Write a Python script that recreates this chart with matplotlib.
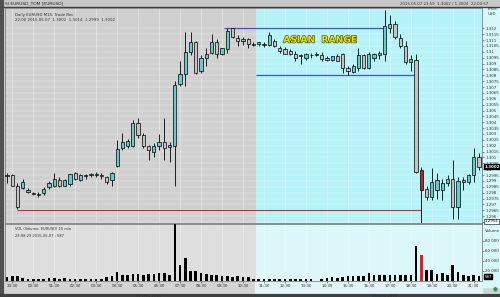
import numpy as np
import matplotlib
matplotlib.use("Agg")
import matplotlib.pyplot as plt
import matplotlib.patheffects as pe

# 15 minute candles, EURUSD
opens = [1.2994, 1.2995, 1.2986, 1.2984, 1.2981, 1.2980, 1.2979, 1.2980, 1.2985, 1.2986,
         1.2991, 1.2986, 1.2987, 1.2997, 1.2991, 1.2994, 1.2995, 1.2995, 1.2995, 1.2993,
         1.2991, 1.3003, 1.3018, 1.3020, 1.3020, 1.3039, 1.3029, 1.3020, 1.3015, 1.3020,
         1.3023, 1.3019, 1.3020, 1.3073, 1.3081, 1.3100, 1.3108, 1.3084, 1.3095, 1.3099,
         1.3108, 1.3098, 1.3102, 1.3120, 1.3112, 1.3109, 1.3111, 1.3107, 1.3107, 1.3107,
         1.3106, 1.3109, 1.3103, 1.3102, 1.3101, 1.3098, 1.3096, 1.3095, 1.3097, 1.3097,
         1.3097, 1.3095, 1.3093, 1.3096, 1.3098, 1.3086, 1.3083, 1.3086, 1.3097, 1.3086,
         1.3095, 1.3097, 1.3098, 1.3120, 1.3124, 1.3112, 1.3105, 1.3091, 1.3093, 1.2999,
         1.2983, 1.2976, 1.2982, 1.2982, 1.2988, 1.2992, 1.2968, 1.2989, 1.2989, 1.2995,
         1.3010]
highs = [1.2997, 1.2996, 1.2988, 1.2992, 1.2984, 1.2981, 1.2981, 1.2985, 1.2990, 1.2997,
         1.2993, 1.2992, 1.2996, 1.2998, 1.2996, 1.2996, 1.2997, 1.2998, 1.2997, 1.2994,
         1.2998, 1.3025, 1.3031, 1.3026, 1.3042, 1.3044, 1.3031, 1.3021, 1.3022, 1.3030,
         1.3044, 1.3023, 1.3075, 1.3092, 1.3117, 1.3117, 1.3109, 1.3097, 1.3103, 1.3115,
         1.3111, 1.3103, 1.3120, 1.3120, 1.3114, 1.3113, 1.3112, 1.3108, 1.3108, 1.3108,
         1.3117, 1.3111, 1.3105, 1.3104, 1.3102, 1.3101, 1.3098, 1.3099, 1.3099, 1.3100,
         1.3100, 1.3096, 1.3096, 1.3098, 1.3099, 1.3088, 1.3090, 1.3103, 1.3098, 1.3100,
         1.3099, 1.3101, 1.3136, 1.3131, 1.3126, 1.3115, 1.3109, 1.3097, 1.3098, 1.3002,
         1.2986, 1.3001, 1.2997, 1.2992, 1.2995, 1.3008, 1.2993, 1.2993, 1.2996, 1.3018,
         1.3014]
lows = [1.2988, 1.2986, 1.2966, 1.2983, 1.2980, 1.2978, 1.2976, 1.2978, 1.2983, 1.2985,
        1.2985, 1.2986, 1.2986, 1.2991, 1.2990, 1.2992, 1.2993, 1.2993, 1.2992, 1.2987,
        1.2986, 1.3002, 1.3016, 1.3018, 1.3019, 1.3027, 1.3018, 1.3008, 1.3010, 1.3016,
        1.3008, 1.3006, 1.2986, 1.3071, 1.3071, 1.3097, 1.3081, 1.3082, 1.3088, 1.3098,
        1.3095, 1.3097, 1.3099, 1.3112, 1.3105, 1.3106, 1.3103, 1.3105, 1.3105, 1.3104,
        1.3105, 1.3104, 1.3099, 1.3098, 1.3097, 1.3092, 1.3090, 1.3093, 1.3095, 1.3096,
        1.3092, 1.3092, 1.3092, 1.3092, 1.3082, 1.3080, 1.3082, 1.3084, 1.3085, 1.3085,
        1.3092, 1.3094, 1.3092, 1.3116, 1.3111, 1.3103, 1.3090, 1.3084, 1.2997, 1.2954,
        1.2974, 1.2974, 1.2975, 1.2974, 1.2986, 1.2958, 1.2958, 1.2982, 1.2987, 1.2989,
        1.2999]
closes = [1.2995, 1.2986, 1.2968, 1.2989, 1.2982, 1.2979, 1.2978, 1.2983, 1.2988, 1.2992,
          1.2986, 1.2991, 1.2996, 1.2992, 1.2995, 1.2995, 1.2996, 1.2996, 1.2994, 1.2989,
          1.2997, 1.3017, 1.3023, 1.3024, 1.3039, 1.3029, 1.3020, 1.3016, 1.3020, 1.3023,
          1.3018, 1.3021, 1.3072, 1.3081, 1.3100, 1.3108, 1.3082, 1.3095, 1.3098, 1.3108,
          1.3098, 1.3103, 1.3118, 1.3113, 1.3109, 1.3111, 1.3107, 1.3106, 1.3108, 1.3106,
          1.3114, 1.3105, 1.3101, 1.3098, 1.3098, 1.3095, 1.3097, 1.3098, 1.3097, 1.3098,
          1.3094, 1.3093, 1.3096, 1.3092, 1.3086, 1.3084, 1.3088, 1.3097, 1.3086, 1.3098,
          1.3098, 1.3099, 1.3122, 1.3124, 1.3113, 1.3105, 1.3091, 1.3094, 1.2998, 1.2982,
          1.2976, 1.2989, 1.2991, 1.2988, 1.2992, 1.2968, 1.2990, 1.2991, 1.2995, 1.3010,
          1.3002]
volumes = [7600, 9000, 9600, 5600, 4400, 4400, 4400, 4400, 5600, 6000,
           4400, 5600, 4400, 4400, 4400, 4400, 4400, 4400, 4400, 7600,
           9000, 17600, 12400, 11000, 14400, 13000, 12400, 14400, 13000, 15600,
           15600, 12400, 118000, 31000, 46400, 19000, 19000, 15600, 14400, 12400,
           12400, 9600, 9600, 7600, 9000, 7600, 7600, 4400, 4400, 4400,
           4400, 4400, 4400, 4400, 4400, 4400, 4400, 4400, 4400, 0,
           4400, 5600, 7600, 5600, 7600, 9000, 9000, 9000, 9000, 15600,
           11000, 11000, 12400, 11000, 11000, 12400, 11000, 12400, 69000, 52400,
           21000, 22400, 14400, 15600, 11000, 31000, 17600, 11000, 9000, 12400,
           9000]

time_labels = ["23:30", "00:30", "01:30", "02:30", "03:30", "04:30", "05:30", "06:30",
               "07:30", "08:30", "09:30", "10:30", "11:30", "12:30", "13:30", "14:30",
               "15:30", "16:30", "17:30", "18:30", "19:30", "20:30", "21:30"]
date_labels = ["07 мая 2015", "08 мая 2015"]

session_split = 47.5      # night / day border (candle index)
asian_high = 1.3120
asian_low = 1.30805
range_low = 1.2965
red_candle = 79

n = len(opens)
idx = np.arange(n)
o = np.array(opens); h = np.array(highs); l = np.array(lows); c = np.array(closes)
vol = np.array(volumes)

W, H = 500, 297
fig = plt.figure(figsize=(W / 100, H / 100), dpi=100)
fig.patch.set_facecolor("#d4d4d4")

def rect(x0, y0, x1, y1):
    # pixel box -> figure fraction
    return [x0 / W, 1 - y1 / H, (x1 - x0) / W, (y1 - y0) / H]

# window frame
bg = fig.add_axes([0, 0, 1, 1])
bg.set_xlim(0, W); bg.set_ylim(H, 0); bg.axis("off")
bg.add_patch(plt.Rectangle((0, 0), W, 7, color="#c8c8c8"))
bg.add_patch(plt.Rectangle((482, 7), 18, 280, color="#d6f8fa"))
bg.add_patch(plt.Rectangle((255, 281), 227, 13, color="#e2f4f5"))
bg.plot([0, W], [7, 7], color="#404040", lw=1)
bg.plot([1.5, 1.5], [0, H], color="#505050", lw=3)
bg.plot([0, W], [295.5, 295.5], color="#404040", lw=3)
bg.text(5, 3.8, "SI EURUSD_TOM [EURUSD]", fontsize=3.2, va="center", color="#202020")
bg.text(400, 3.8, "2015.05.07 23:59  1.3002 / 1.3004  22:00:57", fontsize=2.8, va="center", color="#303030")
bg.text(495, 289, "\u25cf", fontsize=4, color="#20a040", ha="center", va="center")

ax = fig.add_axes(rect(5, 8, 482, 223))
axv = fig.add_axes(rect(5, 224, 482, 281))

xlo, xhi = -0.38, n - 0.43
for a, gcol, ccol in ((ax, "#d0d0d0", "#b6f3f8"), (axv, "#dedede", "#dcf8fa")):
    a.axvspan(xlo, session_split, color=gcol, lw=0, zorder=0)
    a.axvspan(session_split, xhi, color=ccol, lw=0, zorder=0)
    a.set_xlim(xlo, xhi)
    for sp in a.spines.values():
        sp.set_color("#808080"); sp.set_linewidth(0.6)

# price grid + right axis
ylo, yhi = 1.29542, 1.31373
ax.set_ylim(ylo, yhi)
pticks = np.arange(1.2955, 1.31201, 0.0005)
ax.yaxis.tick_right()
ax.set_yticks(pticks)
ax.set_yticklabels([("%.4f" % p).rstrip("0") for p in pticks])
ax.tick_params(axis="y", labelsize=2.9, length=1.5, width=0.4, pad=1, colors="#303030")
for p in pticks:
    ax.axhline(p, color="white", lw=0.35, alpha=0.6, zorder=0.5)
xt = np.arange(1, n, 4)
for a in (ax, axv):
    for xv in xt:
        a.axvline(xv, color="white", lw=0.4, alpha=0.6, zorder=0.5)
ax.set_xticks([])

# candles
up = c >= o
body_col = np.where(up, "#6cc9c6", "#c4c4c4").astype(object)
body_col[red_candle] = "#b02828"
ax.vlines(idx, l, h, color="black", lw=0.6, zorder=2)
ax.bar(idx, np.maximum(np.abs(c - o), 0.00001), bottom=np.minimum(o, c), width=0.62,
       color=list(body_col), edgecolor="black", linewidth=0.5, zorder=3)

# asian range + low line
ax.hlines(asian_high, 41.4, 72, color="#3a50e0", lw=0.9, zorder=1.5)
ax.hlines(asian_low, session_split, 78, color="#3a50e0", lw=0.9, zorder=1.5)
ax.hlines(range_low, 2, red_candle, color="#d02828", lw=0.8, zorder=1.5)
ax.text(59.7, 1.3110, "ASIAN  RANGE", fontsize=6.6, fontweight="bold", color="#e8e400",
        ha="center", va="center", zorder=4,
        path_effects=[pe.withStroke(linewidth=0.9, foreground="#4a4a10")])

ax.text(0.02, 0.965, "Daily EURUSD M15, Trade Rec", transform=ax.transAxes,
        fontsize=2.8, color="#303030")
ax.text(0.02, 0.94, "22:00 2015-05-07  1.3002  1.3014  1.2999  1.3002", transform=ax.transAxes,
        fontsize=2.8, color="#303030")
ax.text(1.012, 0.965, "Price\nUSD", transform=ax.transAxes, fontsize=2.9,
        va="bottom", ha="left", color="#303030", linespacing=1.1)
ax.text(1.005, c[-1], "%.4f" % c[-1], transform=ax.get_yaxis_transform(), fontsize=2.9,
        color="white", va="center", ha="left", fontweight="bold",
        bbox=dict(boxstyle="square,pad=0.15", fc="black", ec="black"))
ax.text(1.005, l.min(), "%.4f" % l.min(), transform=ax.get_yaxis_transform(), fontsize=2.9,
        color="black", va="bottom", ha="left",
        bbox=dict(boxstyle="square,pad=0.15", fc="white", ec="black", lw=0.4))

# volume
vcol = ["black"] * n
vcol[red_candle] = "#e02020"
axv.bar(idx, vol, width=0.5, color=vcol, zorder=3)
axv.set_ylim(0, 113000)
axv.yaxis.tick_right()
axv.set_yticks([20000, 40000, 60000, 80000])
axv.set_yticklabels(["20 000", "40 000", "60 000", "80 000"])
axv.tick_params(axis="y", labelsize=2.9, length=1.5, width=0.4, pad=1, colors="#303030")
axv.text(1.006, 0.86, "Volume", transform=axv.transAxes, fontsize=2.9, color="#303030")
axv.text(1.005, 0.04, "587", transform=axv.transAxes, fontsize=2.9, color="white",
         va="bottom", ha="left", bbox=dict(boxstyle="square,pad=0.15", fc="black", ec="black"))
axv.text(0.02, 0.9, "VOL (Volume, EURUSD) 15 min", transform=axv.transAxes,
         fontsize=2.6, color="#303030")
axv.text(0.02, 0.78, "23:08:29 2015-05-07 : 587", transform=axv.transAxes,
         fontsize=2.6, color="#303030")

axv.set_xticks(xt)
axv.set_xticklabels(time_labels[:len(xt)])
axv.tick_params(axis="x", labelsize=2.9, length=1.2, width=0.4, pad=1, colors="#303030")
axv.text(27, -0.22, date_labels[0], transform=axv.get_xaxis_transform(), fontsize=2.9,
         ha="center", va="top", color="#303030")
axv.text(72, -0.22, date_labels[1], transform=axv.get_xaxis_transform(), fontsize=2.9,
         ha="center", va="top", color="#303030")

fig.savefig("out.png", dpi=100, facecolor=fig.get_facecolor())
